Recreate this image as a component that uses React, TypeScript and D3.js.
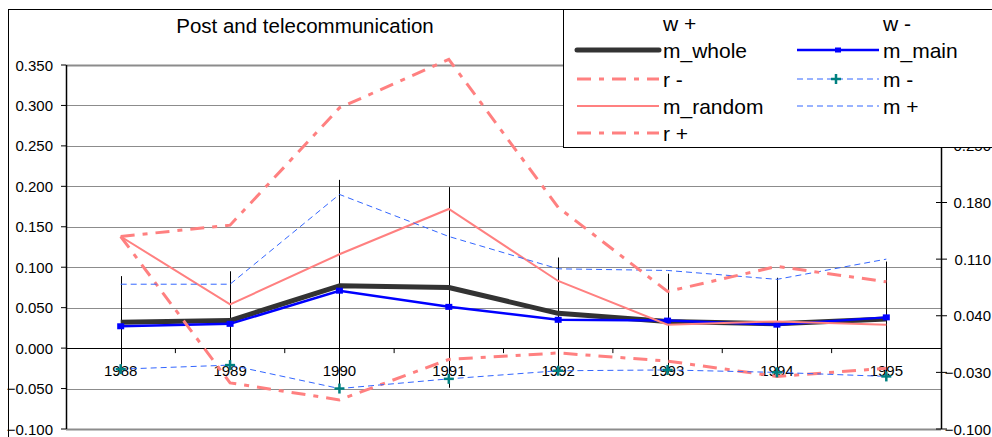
import * as d3 from "d3";

const W = 992;
const H = 437;
const plot = { left: 66, right: 941, top: 65, bottom: 429 };

const years = ["1988", "1989", "1990", "1991", "1992", "1993", "1994", "1995"];
const wPlus = [0.089, 0.095, 0.208, 0.199, 0.112, 0.092, 0.087, 0.107];
const wMinus = [-0.031, -0.023, -0.051, -0.049, -0.031, -0.031, -0.035, -0.037];
const mWhole = [0.032, 0.034, 0.077, 0.075, 0.043, 0.033, 0.03, 0.036];
const mMain = [0.027, 0.03, 0.071, 0.051, 0.035, 0.034, 0.029, 0.038];
const rMinus = [0.138, -0.043, -0.064, -0.014, -0.006, -0.016, -0.035, -0.025];
const mMinus = [-0.026, -0.021, -0.05, -0.038, -0.028, -0.027, -0.03, -0.035];
const mRandom = [0.138, 0.054, 0.116, 0.172, 0.083, 0.029, 0.033, 0.029];
const mPlus = [0.079, 0.079, 0.19, 0.138, 0.098, 0.096, 0.085, 0.11];
const rPlus = [0.138, 0.152, 0.297, 0.357, 0.174, 0.07, 0.101, 0.082];

const leftTicks = [-0.1, -0.05, 0, 0.05, 0.1, 0.15, 0.2, 0.25, 0.3, 0.35];
const rightTicks = [-0.1, -0.03, 0.04, 0.11, 0.18, 0.25, 0.32];

const FONT = "Liberation Sans, Arial, sans-serif";
const SALMON = "#FF8080";
const LIGHTBLUE = "#3366FF";
const DASHDOT = "14,8,5,8";

const App = () => {
  const x = d3
    .scaleBand<string>()
    .domain(years)
    .range([plot.left, plot.right]);
  const cx = (i: number) => (x(years[i]) as number) + x.bandwidth() / 2;
  const y = d3.scaleLinear().domain([-0.1, 0.35]).range([plot.bottom, plot.top]);

  const line = d3
    .line<number>()
    .x((_, i) => cx(i))
    .y((d) => y(d));

  const fmt = d3.format(".3f");

  // legend layout
  const legRows = [23, 50, 79, 106, 133];
  const legLeft = [
    { name: "w +" },
    { name: "m_whole", stroke: "#333333", width: 5 },
    { name: "r -", stroke: SALMON, width: 3, dash: DASHDOT },
    { name: "m_random", stroke: SALMON, width: 2 },
    { name: "r +", stroke: SALMON, width: 3, dash: DASHDOT },
  ];
  const legRight = [
    { name: "w -" },
    { name: "m_main", stroke: "#0000FF", width: 2.5, marker: "square" },
    { name: "m -", stroke: LIGHTBLUE, width: 1, dash: "6,4", marker: "plus" },
    { name: "m +", stroke: LIGHTBLUE, width: 1, dash: "6,4" },
  ];

  const plus = (px: number, py: number, key: string) => (
    <g key={key} stroke="#008080" strokeWidth={2.5}>
      <line x1={px - 5} x2={px + 5} y1={py} y2={py} />
      <line x1={px} x2={px} y1={py - 5} y2={py + 5} />
    </g>
  );

  const legendItem = (
    it: { name: string; stroke?: string; width?: number; dash?: string; marker?: string },
    i: number,
    x0: number,
    x1: number
  ) => {
    const ly = legRows[i];
    return (
      <g key={it.name}>
        {it.stroke && (
          <line
            x1={x0}
            x2={x1}
            y1={ly}
            y2={ly}
            stroke={it.stroke}
            strokeWidth={it.width}
            strokeDasharray={it.dash}
            strokeLinecap={it.width === 5 ? "round" : "butt"}
          />
        )}
        {it.marker === "square" && (
          <rect x={(x0 + x1) / 2 - 3} y={ly - 2.5} width={6} height={5} fill="#0000FF" />
        )}
        {it.marker === "plus" && plus((x0 + x1) / 2 - 2, ly, "lp")}
        <text x={x1 + 4} y={ly + 8} fontSize={21} fontFamily={FONT}>
          {it.name}
        </text>
      </g>
    );
  };

  return (
    <svg
      width={W}
      height={H}
      style={{ position: "absolute", left: 0, top: 0, background: "#fff" }}
    >
      <rect x={8.5} y={9.5} width={1100} height={600} fill="#fff" stroke="#000" />
      <text
        x={305}
        y={33}
        textAnchor="middle"
        fontSize={20.5}
        fontFamily={FONT}
      >
        Post and telecommunication
      </text>

      {/* gridlines */}
      {leftTicks.map((t) => (
        <line
          key={"g" + t}
          x1={plot.left}
          x2={plot.right}
          y1={Math.round(y(t)) + 0.5}
          y2={Math.round(y(t)) + 0.5}
          stroke={t === 0 ? "#000" : "#8c8c8c"}
          strokeWidth={t === 0.35 || t === -0.1 ? 2 : 1}
        />
      ))}

      {/* x axis minor ticks */}
      {years.slice(1).map((yr) => (
        <line
          key={"xt" + yr}
          x1={(x(yr) as number)}
          x2={(x(yr) as number)}
          y1={y(0)}
          y2={y(0) + 5}
          stroke="#000"
        />
      ))}

      {/* left axis */}
      <line x1={plot.left + 0.5} x2={plot.left + 0.5} y1={plot.top} y2={plot.bottom} stroke="#000" strokeWidth={1.5} />
      {leftTicks.map((t) => (
        <g key={"lt" + t}>
          <line x1={plot.left - 5} x2={plot.left} y1={y(t)} y2={y(t)} stroke="#000" />
          <text
            x={53}
            y={y(t) + 5.5}
            textAnchor="end"
            fontSize={15}
            fontFamily={FONT}
          >
            {fmt(t)}
          </text>
        </g>
      ))}

      {/* right axis */}
      <line x1={plot.right + 0.5} x2={plot.right + 0.5} y1={plot.top} y2={plot.bottom} stroke="#000" strokeWidth={1.5} />
      {rightTicks.map((t) => (
        <g key={"rt" + t}>
          <line x1={plot.right - 5} x2={plot.right + 6} y1={y(t)} y2={y(t)} stroke="#000" />
          <text
            x={991}
            y={y(t) + 5.5}
            textAnchor="end"
            fontSize={15}
            fontFamily={FONT}
          >
            {fmt(t)}
          </text>
        </g>
      ))}

      {/* high-low lines (w+ / w-) */}
      {years.map((yr, i) => (
        <line
          key={"hl" + yr}
          x1={Math.round(cx(i)) + 0.5}
          x2={Math.round(cx(i)) + 0.5}
          y1={y(wPlus[i])}
          y2={y(wMinus[i])}
          stroke="#000"
        />
      ))}

      {/* category labels */}
      {years.map((yr, i) => (
        <text
          key={"xl" + yr}
          x={cx(i)}
          y={376}
          textAnchor="middle"
          fontSize={15}
          fontFamily={FONT}
        >
          {yr}
        </text>
      ))}

      {/* series */}
      <path d={line(mWhole) as string} fill="none" stroke="#333333" strokeWidth={5} strokeLinejoin="round" />
      <path d={line(mMain) as string} fill="none" stroke="#0000FF" strokeWidth={2.5} />
      {mMain.map((v, i) => (
        <rect key={"mm" + i} x={cx(i) - 3.5} y={y(v) - 3} width={7} height={6} fill="#0000FF" />
      ))}
      <path d={line(rMinus) as string} fill="none" stroke={SALMON} strokeWidth={3} strokeDasharray={DASHDOT} />
      <path d={line(mMinus) as string} fill="none" stroke={LIGHTBLUE} strokeWidth={1} strokeDasharray="6,4" />
      {mMinus.map((v, i) => plus(cx(i), y(v), "mp" + i))}
      <path d={line(mRandom) as string} fill="none" stroke={SALMON} strokeWidth={2} />
      <path d={line(mPlus) as string} fill="none" stroke={LIGHTBLUE} strokeWidth={1} strokeDasharray="6,4" />
      <path d={line(rPlus) as string} fill="none" stroke={SALMON} strokeWidth={3} strokeDasharray={DASHDOT} />

      {/* legend */}
      <rect x={563.5} y={9.5} width={500} height={138} fill="#fff" stroke="#000" />
      {legLeft.map((it, i) => legendItem(it, i, 577, 659))}
      {legRight.map((it, i) => legendItem(it, i, 797, 879))}
    </svg>
  );
};

export default App;
